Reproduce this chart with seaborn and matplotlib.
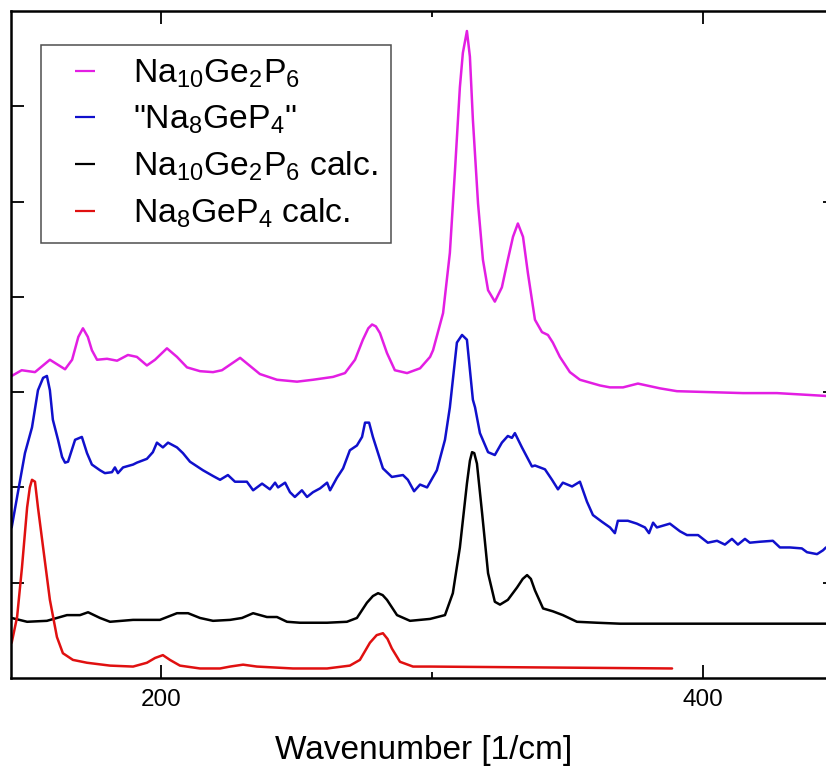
import numpy as np
import pandas as pd
import matplotlib
matplotlib.use("Agg")
import matplotlib.pyplot as plt
from matplotlib import font_manager
import seaborn as sns
from matplotlib.lines import Line2D

# ---- data (wavenumber [1/cm], intensity [a.u., offset]) ----
na10_x = [144.9, 148.6, 153.5, 159.0, 164.6, 167.2, 169.5, 171.2, 173.0, 174.5, 176.4, 180.1, 183.8, 187.8,
          191.1, 194.8, 197.8, 202.2, 205.9, 209.6, 214.4, 219.2, 222.5, 229.2, 236.5, 242.8,
          250.2, 256.1, 263.5, 267.9, 271.6, 274.5, 276.5, 277.9, 279.3, 280.8, 283.4, 286.3, 290.8, 295.6,
          299.3, 300.4, 304.1, 306.6, 308.5, 310.3, 311.4, 312.9, 314.0, 315.1, 317.0, 318.8,
          320.7, 323.2, 325.8, 328.0, 329.9, 331.7, 333.6, 335.4, 338.0, 340.6, 342.8, 344.6,
          347.2, 350.9, 354.6, 358.3, 362.0, 365.7, 370.5, 376.0, 384.1, 390.4, 402.6, 414.8,
          427.3, 439.5, 445.4]
na10_y = [3.17, 3.23, 3.21, 3.34, 3.24, 3.34, 3.58, 3.67, 3.58, 3.44, 3.34, 3.35, 3.33, 3.39,
          3.37, 3.28, 3.34, 3.46, 3.37, 3.26, 3.22, 3.21, 3.23, 3.36, 3.19, 3.13,
          3.11, 3.13, 3.16, 3.20, 3.34, 3.55, 3.67, 3.71, 3.69, 3.62, 3.41, 3.23, 3.20, 3.25,
          3.37, 3.44, 3.83, 4.46, 5.33, 6.20, 6.56, 6.79, 6.52, 5.86, 4.98, 4.39,
          4.07, 3.95, 4.10, 4.39, 4.63, 4.77, 4.63, 4.25, 3.76, 3.63, 3.60, 3.52,
          3.37, 3.21, 3.13, 3.10, 3.07, 3.05, 3.05, 3.09, 3.04, 3.01, 3.00, 2.99,
          2.99, 2.97, 2.96]

na8_x = [144.9, 146.9, 149.8, 152.4, 154.6, 156.5, 157.9, 159.0, 160.1, 162.0, 163.5, 164.6,
         165.7, 168.3, 170.8, 172.7, 174.5, 177.5, 179.3, 181.9, 183.0, 184.1, 186.0, 189.7,
         191.1, 194.8, 197.0, 198.5, 200.7, 202.6, 205.9, 208.1, 210.7, 215.5, 219.2, 221.8,
         224.7, 227.3, 231.7, 234.0, 237.3, 240.2, 242.1, 243.2, 245.8, 247.6, 249.4, 252.0,
         253.9, 256.1, 258.7, 261.3, 262.4, 264.9, 267.2, 269.7, 272.3, 274.2, 275.3, 276.8,
         278.2, 280.1, 281.9, 285.2, 289.3, 291.1, 293.4, 295.6, 298.2, 301.8, 304.8, 306.6,
         309.2, 311.1, 312.9, 315.1, 315.9, 317.7, 320.7, 323.2, 325.8, 328.0, 329.5, 330.6,
         333.2, 336.9, 338.0, 341.7, 344.3, 346.5, 348.3, 351.7, 354.6, 357.2, 359.4, 362.7,
         365.7, 367.5, 368.6, 372.3, 375.6, 378.6, 380.1, 381.6, 383.0, 387.8, 391.5, 394.1,
         398.2, 401.8, 405.2, 408.1, 410.7, 412.9, 415.5, 417.3, 421.0, 425.8, 428.4, 432.1,
         436.5, 438.4, 442.1, 444.3, 445.4]
na8_y = [1.58, 1.90, 2.36, 2.63, 3.02, 3.15, 3.17, 3.02, 2.71, 2.50, 2.32, 2.26,
         2.27, 2.50, 2.53, 2.36, 2.24, 2.18, 2.15, 2.16, 2.21, 2.15, 2.21, 2.24,
         2.26, 2.30, 2.37, 2.47, 2.42, 2.47, 2.42, 2.36, 2.27, 2.18, 2.12, 2.08,
         2.13, 2.06, 2.06, 1.97, 2.04, 1.98, 2.05, 2.00, 2.05, 1.95, 1.90, 1.97,
         1.90, 1.95, 1.99, 2.05, 1.97, 2.10, 2.20, 2.39, 2.44, 2.53, 2.68, 2.68,
         2.53, 2.36, 2.20, 2.11, 2.13, 2.08, 1.96, 2.03, 2.00, 2.18, 2.50, 2.84,
         3.52, 3.60, 3.55, 2.92, 2.84, 2.57, 2.37, 2.34, 2.47, 2.54, 2.52, 2.57,
         2.42, 2.22, 2.23, 2.19, 2.08, 1.98, 2.05, 2.01, 2.06, 1.85, 1.71, 1.64,
         1.58, 1.52, 1.65, 1.65, 1.62, 1.58, 1.52, 1.63, 1.58, 1.62, 1.54, 1.50,
         1.50, 1.42, 1.44, 1.40, 1.46, 1.40, 1.46, 1.42, 1.43, 1.44, 1.37, 1.37,
         1.36, 1.32, 1.30, 1.34, 1.37]

na10c_x = [144.9, 150.6, 157.9, 165.3, 170.1, 173.1, 177.5, 181.2, 189.7, 199.6, 205.9, 210.0,
           214.4, 219.2, 225.5, 229.9, 234.0, 239.1, 242.8, 246.5, 251.3, 261.3, 268.6, 272.3,
           276.0, 278.2, 280.1, 281.8, 283.4, 287.1, 291.9, 299.3, 304.8, 307.7, 310.3, 312.9,
           314.0, 314.8, 315.6, 316.6, 318.5, 320.7, 323.2, 325.1, 328.0, 331.4, 333.5, 335.1,
           336.5, 338.0, 341.0, 344.6, 348.3, 353.5, 360.9, 369.4, 400.0, 445.4]
na10c_y = [0.63, 0.59, 0.60, 0.66, 0.66, 0.69, 0.63, 0.59, 0.61, 0.61, 0.68, 0.68,
           0.63, 0.60, 0.61, 0.63, 0.68, 0.64, 0.64, 0.59, 0.58, 0.58, 0.59, 0.63,
           0.79, 0.86, 0.89, 0.87, 0.82, 0.66, 0.60, 0.62, 0.66, 0.89, 1.37, 2.04,
           2.28, 2.37, 2.36, 2.25, 1.73, 1.10, 0.80, 0.77, 0.82, 0.95, 1.04, 1.08,
           1.04, 0.92, 0.73, 0.70, 0.66, 0.59, 0.58, 0.57, 0.57, 0.57]

na8c_x = [144.9, 146.9, 148.7, 150.6, 151.6, 152.4, 153.5, 154.6, 156.5, 159.0, 161.6, 163.8, 167.5,
          172.7, 181.2, 189.7, 194.8, 197.8, 200.7, 203.3, 207.0, 214.4, 221.8, 225.5, 230.3,
          235.4, 248.7, 261.3, 269.7, 273.4, 277.1, 279.6, 281.9, 283.6, 285.2, 288.2, 293.0,
          299.3, 388.6]
na8c_y = [0.37, 0.64, 1.16, 1.79, 2.00, 2.08, 2.06, 1.79, 1.37, 0.82, 0.43, 0.26, 0.19,
          0.16, 0.13, 0.12, 0.16, 0.21, 0.24, 0.19, 0.13, 0.10, 0.10, 0.12, 0.14,
          0.12, 0.10, 0.10, 0.13, 0.19, 0.37, 0.45, 0.47, 0.41, 0.31, 0.17, 0.12,
          0.12, 0.10]

xtick_vals = [200, 400]
xtick_labels = ["200", "400"]
labels = [r"Na$_{10}$Ge$_2$P$_6$", r'"Na$_8$GeP$_4$"',
          r"Na$_{10}$Ge$_2$P$_6$ calc.", r"Na$_8$GeP$_4$ calc."]
colors = ["#e31ee3", "#1010cc", "#000000", "#e01010"]
series_x = [na10_x, na8_x, na10c_x, na8c_x]
series_y = [na10_y, na8_y, na10c_y, na8c_y]

# ---- styling ----
sns.set_style("ticks")
plt.rcParams["font.family"] = ["Liberation Sans", "DejaVu Sans"]
plt.rcParams["mathtext.fontset"] = "custom"
plt.rcParams["mathtext.rm"] = "Liberation Sans"
plt.rcParams["mathtext.it"] = "Liberation Sans:italic"
plt.rcParams["mathtext.default"] = "regular"
for k in ["text.color", "axes.labelcolor", "xtick.color", "ytick.color", "axes.edgecolor"]:
    plt.rcParams[k] = "black"

available = {f.name for f in font_manager.fontManager.ttflist}
if "Liberation Sans Narrow" in available:
    tick_family, tick_size = "Liberation Sans Narrow", 20
else:
    tick_family, tick_size = "Liberation Sans", 17.5

fig = plt.figure(figsize=(8.26, 7.71), dpi=100)
ax = fig.add_axes([11 / 826, 93 / 771, 825 / 826, 667 / 771])

for xs, ys, lab, col in zip(series_x, series_y, labels, colors):
    df = pd.DataFrame({"x": xs, "y": ys})
    sns.lineplot(data=df, x="x", y="y", ax=ax, color=col, lw=1.8, sort=False,
                 estimator=None, label=lab)

ax.set_xlim(144.65, 449.1)
ax.set_ylim(0, 7)
ax.set_xticks(xtick_vals)
ax.set_xticks([300], minor=True)
ax.set_yticks([1, 2, 3, 4, 5, 6])
ax.set_yticklabels([])
ax.set_xticklabels(xtick_labels, family=tick_family, fontsize=tick_size)
ax.tick_params(axis="x", which="major", direction="in", length=9.5, width=1.3,
               top=True, pad=8, colors="black")
ax.tick_params(axis="x", which="minor", direction="in", length=4.5, width=1.3, top=True)
ax.tick_params(axis="y", which="major", direction="in", length=9.5, width=1.3,
               left=True, right=False)
for s in ax.spines.values():
    s.set_linewidth(1.8)
    s.set_color("black")
    s.set_visible(True)

sec = ax.secondary_yaxis("right")
sec.set_yticks([1, 3, 5])
sec.set_yticklabels([])
sec.tick_params(direction="in", length=9.5, width=1.3, colors="black")
sec.spines["right"].set_linewidth(1.8)

ax.set_xlabel("Wavenumber [1/cm]", fontsize=24, labelpad=17, color="black")
ax.set_ylabel("")

handles = [Line2D([], [], color=c, lw=0, marker="_", markersize=14.5, markeredgewidth=1.6)
           for c in colors]
leg = ax.legend(handles, labels, loc="upper left", bbox_to_anchor=(0.0367, 0.949),
                borderaxespad=0, fontsize=24.3, frameon=True, fancybox=False,
                handlelength=1.85, handletextpad=0.5, borderpad=0.38, labelspacing=0.4)
leg.get_frame().set_edgecolor("#222222")
leg.get_frame().set_linewidth(1.1)
for t in leg.get_texts():
    t.set_color("black")

fig.savefig("out.png", dpi=100)
